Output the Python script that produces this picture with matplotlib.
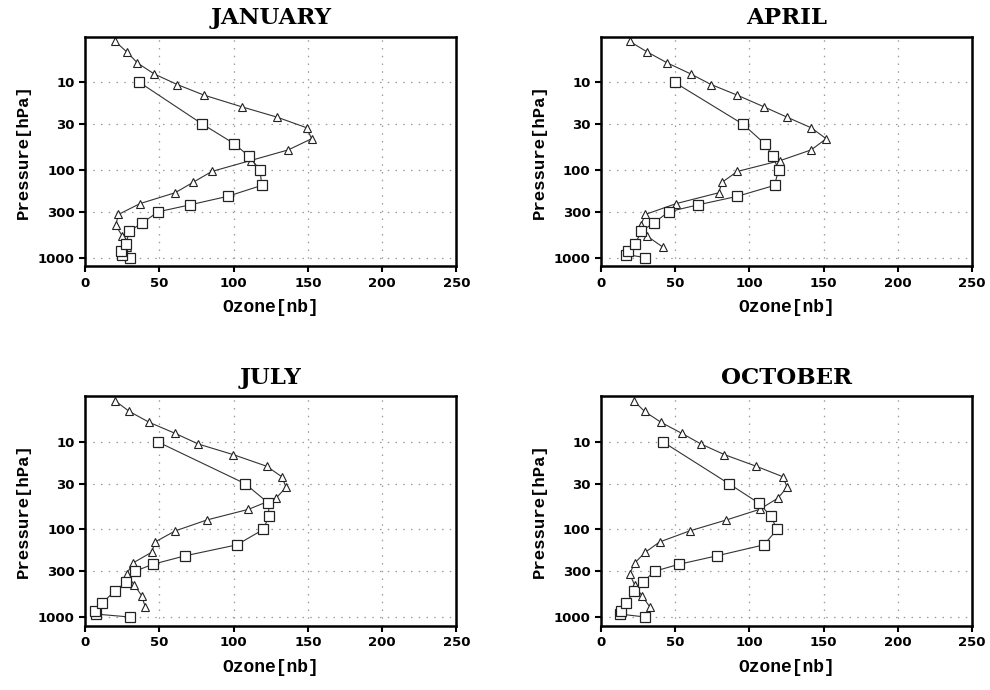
import matplotlib
matplotlib.use('Agg')
import matplotlib.pyplot as plt
from matplotlib.ticker import FixedLocator, NullLocator

# pressure levels [hPa]
tri_lev = [760, 571, 429, 322, 242, 182, 139, 104, 78, 59,
           44, 33, 25, 19, 14, 10.6, 8, 6, 4.5, 3.4]
sq_lev = [1000, 925, 850, 700, 500, 400, 300, 250, 200, 150,
          100, 70, 50, 30, 10]

months = ['JANUARY', 'APRIL', 'JULY', 'OCTOBER']

# ozone [nb], triangles (bottom -> top)
tri_jan = [28.0, 25.1, 20.6, 22.4, 37.0, 60.6, 72.5, 85.3, 111.5, 136.8,
           152.5, 149.2, 129.4, 105.4, 80.1, 62.1, 46.4, 35.2, 28.1, 20.2]
tri_apr = [41.7, 31.2, 26.7, 29.9, 50.7, 79.4, 81.4, 91.8, 120.9, 141.6,
           151.7, 141.6, 125.4, 109.7, 91.8, 74.3, 60.4, 44.7, 31.2, 19.3]
tri_jul = [40.4, 38.1, 33.0, 28.0, 32.1, 44.8, 47.1, 60.6, 81.9, 109.9,
           128.5, 135.3, 132.4, 122.3, 99.8, 76.3, 60.6, 43.3, 29.8, 20.2]
tri_oct = [32.8, 27.6, 22.7, 19.3, 22.7, 29.9, 39.5, 59.7, 84.4, 106.8,
           119.1, 125.4, 122.5, 104.6, 83.2, 67.5, 54.5, 40.6, 29.4, 22.2]

# ozone [nb], squares (bottom -> top)
sq_jan = [30.3, 24.5, 24.2, 27.4, 29.8, 38.6, 49.3, 70.7, 96.0, 118.9,
          117.8, 110.4, 100.3, 79.0, 36.6]
sq_apr = [29.9, 17.1, 18.2, 23.1, 27.2, 35.9, 45.6, 65.5, 91.8, 116.9,
          119.6, 115.8, 110.2, 95.6, 49.6]
sq_jul = [30.3, 7.3, 6.7, 11.2, 20.2, 27.6, 33.6, 45.5, 67.3, 102.1,
          120.0, 123.8, 123.4, 107.7, 48.9]
sq_oct = [29.9, 12.9, 13.3, 17.1, 22.2, 28.3, 36.1, 52.5, 78.1, 109.7,
          118.7, 114.2, 106.3, 86.1, 41.7]

tri_all = [tri_jan, tri_apr, tri_jul, tri_oct]
sq_all = [sq_jan, sq_apr, sq_jul, sq_oct]

xticks = [0, 50, 100, 150, 200, 250]
yticks = [10, 30, 100, 300, 1000]

fig = plt.figure(figsize=(9.9, 6.9), dpi=100)

# axes boxes in figure fractions
boxes = [[0.086, 0.614, 0.375, 0.333],
         [0.607, 0.614, 0.375, 0.333],
         [0.086, 0.093, 0.375, 0.333],
         [0.607, 0.093, 0.375, 0.333]]

for i in range(4):
    ax = fig.add_axes(boxes[i])
    ax.plot(tri_all[i], tri_lev, color='#333333', lw=0.8, marker='^',
            ms=5.5, mfc='white', mec='#222222', mew=0.8)
    ax.plot(sq_all[i], sq_lev, color='#333333', lw=0.8, marker='s',
            ms=7, mfc='white', mec='#222222', mew=0.9)
    ax.set_yscale('log')
    ax.set_ylim(1260, 3)
    ax.set_xlim(0, 250)
    ax.xaxis.set_major_locator(FixedLocator(xticks))
    ax.yaxis.set_major_locator(FixedLocator(yticks))
    ax.yaxis.set_minor_locator(NullLocator())
    ax.set_yticklabels([str(t) for t in yticks])
    ax.grid(True, color='#999999', ls=(0, (1.2, 5)), lw=0.9)
    for s in ax.spines.values():
        s.set_linewidth(1.8)
    ax.tick_params(direction='out', length=4, width=1.5, labelsize=9.5)
    for lab in ax.get_xticklabels() + ax.get_yticklabels():
        lab.set_fontweight('bold')
        lab.set_family('DejaVu Sans')
    ax.set_title(months[i], fontsize=16.5, family='DejaVu Serif',
                 fontweight='bold', pad=9)
    ax.set_xlabel('Ozone[nb]', fontsize=13, family='Liberation Mono',
                  fontweight='bold', labelpad=7)
    ax.set_ylabel('Pressure[hPa]', fontsize=12.5, family='Liberation Mono',
                  fontweight='bold', labelpad=5)

plt.savefig('out.png', dpi=100)
